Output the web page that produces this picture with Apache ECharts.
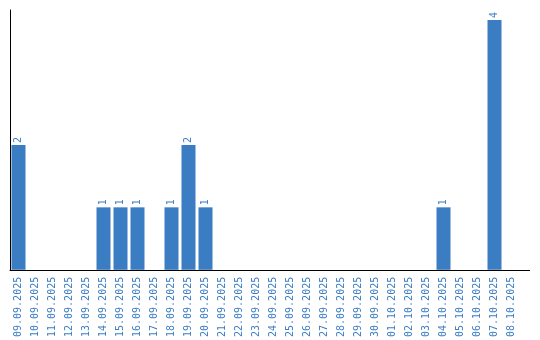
<!DOCTYPE html>
<html><head><meta charset="utf-8">
<script src="https://cdn.jsdelivr.net/npm/echarts@6/dist/echarts.min.js"></script>
<style>html,body{margin:0;padding:0;background:#fff}#c{width:540px;height:340px}</style>
</head><body><div id="c"></div>
<script>
const categories = ['09.09.2025','10.09.2025','11.09.2025','12.09.2025','13.09.2025','14.09.2025','15.09.2025','16.09.2025','17.09.2025','18.09.2025','19.09.2025','20.09.2025','21.09.2025','22.09.2025','23.09.2025','24.09.2025','25.09.2025','26.09.2025','27.09.2025','28.09.2025','29.09.2025','30.09.2025','01.10.2025','02.10.2025','03.10.2025','04.10.2025','05.10.2025','06.10.2025','07.10.2025','08.10.2025'];
const counts = [2,0,0,0,0,1,1,1,0,1,2,1,0,0,0,0,0,0,0,0,0,0,0,0,0,1,0,0,4,0];
const blue = '#3b7dc2';
const chart = echarts.init(document.getElementById('c'));
chart.setOption({
  animation:false,
  grid:{left:10,top:10,width:510,height:260,containLabel:false},
  xAxis:{type:'category',data:categories,
    axisLine:{lineStyle:{color:'#000',width:1}},axisTick:{show:false},
    axisLabel:{rotate:90,interval:0,color:blue,fontFamily:'DejaVu Sans Mono',fontSize:10,margin:7}},
  yAxis:{type:'value',min:0,max:4.16,axisLine:{show:true,lineStyle:{color:'#000',width:1}},
    axisTick:{show:false},axisLabel:{show:false},splitLine:{show:false}},
  series:[{type:'bar',data:counts.map(v=>v===0?null:v),barWidth:14,
    itemStyle:{color:blue},
    label:{show:true,position:'top',rotate:90,align:'left',verticalAlign:'middle',distance:2,
      color:blue,fontFamily:'DejaVu Sans Mono',fontSize:10}}],
  graphic:[{type:'line',shape:{x1:520,y1:270.5,x2:530,y2:270.5},style:{stroke:'#000',lineWidth:1},silent:true}]
});
</script></body></html>
